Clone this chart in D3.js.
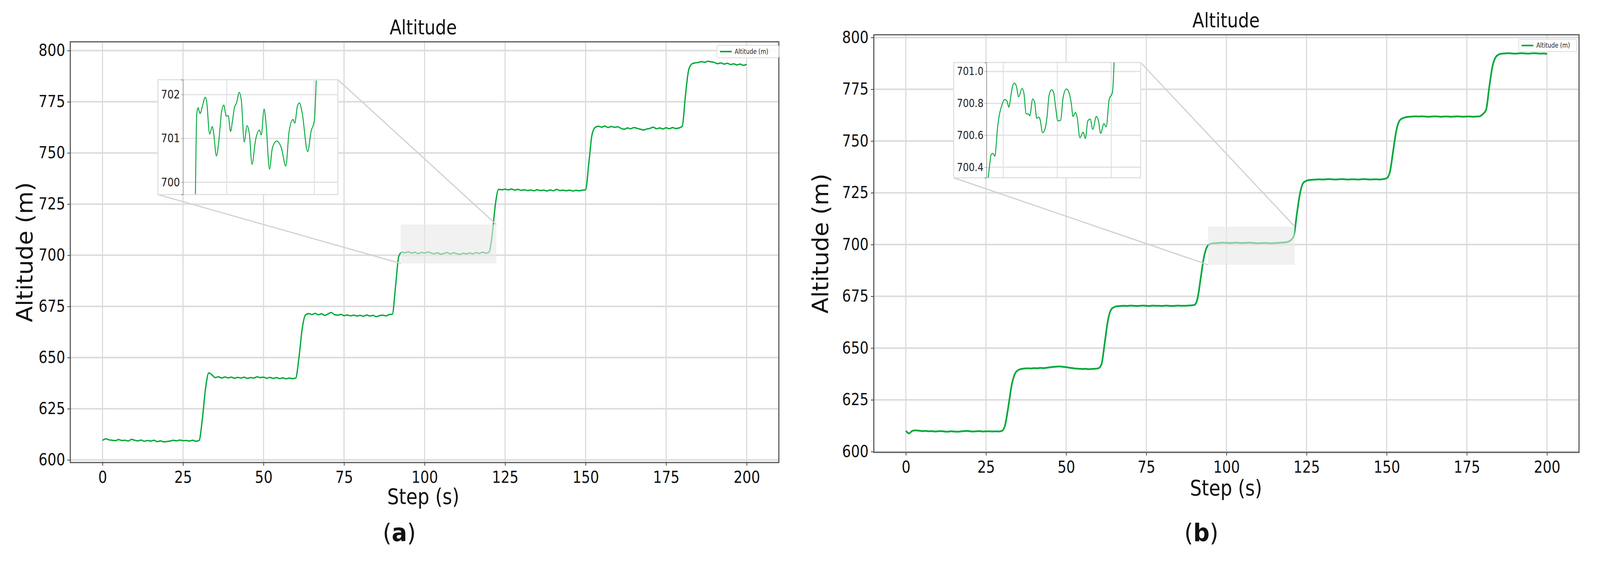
<!DOCTYPE html>
<html><head><meta charset="utf-8">
<script src="https://cdn.jsdelivr.net/npm/d3@7"></script>
<style>html,body{margin:0;padding:0;overflow:hidden;background:#fff}svg{display:block;width:100vw;height:100vh}svg text{font-family:"DejaVu Sans",sans-serif}</style>
</head><body><svg id="c" viewBox="0 0 4347 1436" preserveAspectRatio="none"></svg>
<script>
const yTicks=[600,625,650,675,700,725,750,775,800];
const xTicks=[0,25,50,75,100,125,150,175,200];
const steps=d3.range(0,201);
const altA=[609.5,610.3,609.8,609.6,609.4,609.9,609.5,609.6,609.2,610.0,609.6,609.3,609.7,609.1,609.5,609.2,609.6,608.9,609.3,608.8,609.0,609.2,609.6,609.3,609.7,609.4,609.5,609.2,609.6,609.1,
609.5,620,635,642.5,641.5,640.2,640.6,640.0,640.5,640.1,640.4,639.9,640.3,640.0,640.4,639.8,640.2,640.0,640.6,640.2,640.4,639.9,640.3,639.8,640.2,639.7,640.1,639.6,640.0,639.7,
640.0,650,664,670.8,671.5,671.0,671.6,670.9,671.4,670.6,671.3,672.0,671.0,670.7,671.1,670.5,670.8,670.4,670.7,670.3,670.6,670.2,670.8,670.3,670.6,670.0,670.5,670.7,670.4,671.0,
671.2,685,699.5,701.5,701.2,701.7,701.0,701.5,700.8,701.4,701.0,701.6,701.1,700.7,701.2,700.5,700.9,701.3,700.6,701.2,700.8,700.4,701.0,700.6,701.1,700.7,701.3,700.9,701.5,701.0,
701.5,710,725,732.2,732.0,732.3,731.9,732.4,731.8,732.2,731.7,732.0,731.6,731.9,731.5,732.0,731.6,731.8,731.4,731.9,731.5,732.2,731.6,731.8,731.5,731.8,731.4,731.7,731.5,731.8,
732.0,745,759,762.5,763.0,762.6,763.1,762.4,762.9,762.5,762.8,762.0,761.6,762.2,761.8,762.4,762.0,761.6,761.2,761.7,762.0,762.6,761.8,762.2,761.7,762.3,761.8,762.4,761.9,762.2,
763,778,790.5,793.5,794.0,794.2,794.6,794.3,794.8,794.5,794.2,793.6,794.0,793.4,793.8,793.2,793.5,793.0,793.4,792.8,793.3];
const altB=[610,608.8,610.0,610.2,610.1,609.9,610.0,609.8,609.9,609.7,609.8,609.9,609.7,609.6,609.8,609.7,609.6,609.7,609.9,610.0,609.8,609.7,609.8,609.9,609.7,609.8,609.8,609.7,609.8,609.7,
610,613,622,632,637.5,639.3,639.9,640.1,640.2,640.1,640.3,640.2,640.4,640.3,640.5,640.7,640.9,641.0,641.1,640.9,640.8,640.5,640.3,640.1,640.0,639.9,640.0,639.8,639.9,640.0,
640.2,642,652,663,668.5,669.8,670.2,670.3,670.4,670.3,670.5,670.4,670.3,670.4,670.5,670.4,670.3,670.5,670.4,670.4,670.3,670.5,670.4,670.3,670.4,670.5,670.4,670.4,670.5,670.6,
670.8,674,684,694,699,700.3,700.6,700.7,700.8,700.9,700.8,700.7,700.8,700.9,700.8,700.7,700.8,700.9,700.8,700.7,700.6,700.7,700.8,700.7,700.6,700.7,700.8,700.9,701.0,701.2,
702,704,715,725,729.8,730.8,731.2,731.3,731.4,731.5,731.4,731.5,731.6,731.5,731.4,731.5,731.6,731.5,731.4,731.5,731.5,731.4,731.5,731.6,731.5,731.4,731.5,731.5,731.4,731.6,
732,735,745,755,759.8,761,761.5,761.7,761.8,761.9,761.8,761.9,761.8,761.7,761.8,761.9,761.8,761.7,761.8,761.8,761.7,761.8,761.9,761.8,761.7,761.8,761.8,761.7,761.8,761.9,
763,765,776,786,790.5,791.8,792.2,792.3,792.4,792.3,792.2,792.3,792.4,792.3,792.2,792.3,792.4,792.3,792.2,792.3,792.0];
const insetAx=[92.86,93.15,93.45,93.92,94.51,95.10,95.40,96.10,96.69,97.04,97.64,98.23,98.82,99.35,99.88,100.35,100.88,101.29,101.76,102.24,102.88,103.35,104.0,104.65,105.18,105.77,106.60,107.48,107.89,108.54,108.95,109.78,110.43,111.43,112.49,113.50,114.26,115.14,115.56,116.14,116.61,117.21,118.50,119.27,120.03,120.45];
const insetAy=[699.73,701.54,701.70,701.57,701.76,701.94,701.86,701.10,701.27,701.10,700.60,700.97,701.60,701.76,701.51,701.52,701.16,701.38,701.70,701.81,702.05,701.86,700.92,701.29,701.10,700.41,700.97,701.19,701.08,701.67,701.38,700.30,700.78,700.94,700.78,700.37,701.16,701.43,701.35,701.73,701.81,701.60,700.70,701.16,701.41,702.32];
const insetBx=[94.30,94.65,94.90,95.25,95.71,95.96,96.24,96.59,97.12,97.83,98.29,98.71,99.14,99.49,99.88,100.30,100.83,101.54,101.96,102.42,102.95,103.20,103.83,104.25,104.71,105.14,105.42,105.95,106.55,106.90,107.36,107.89,108.31,108.77,109.23,109.83,110.36,111.07,111.60,112.13,112.48,113.01,113.36,113.96,114.67,115.13,115.66,116.19,116.72,117.49,117.95,118.41,119.12,119.61,120.25,120.95,121.30];
const insetBy=[700.335,700.429,700.478,700.487,700.469,700.527,700.633,700.714,700.780,700.824,700.816,700.776,700.845,700.906,700.927,700.910,700.841,700.894,700.861,700.735,700.732,700.722,700.827,700.804,700.706,700.714,700.698,700.616,700.649,700.714,700.853,700.886,700.869,700.771,700.690,700.694,700.837,700.890,700.869,700.796,700.718,700.743,700.714,700.584,700.620,700.580,700.690,700.702,700.637,700.718,700.690,700.612,700.673,700.653,700.824,700.869,701.057];
const insetATicks=[700,701,702], insetBTicks=[700.4,700.6,700.8,701.0];
const insetAGrid=[100,120], insetBGrid=[97.5,109.1,120.7];

const svg=d3.select("#c");
const GREEN="#00a93a";

function panel(o){
  const g=svg.append("g");
  const x=d3.scaleLinear().domain([-10,210]).range([o.L,o.R]);
  const y=d3.scaleLinear().domain(o.yd).range([o.B,o.T]);
  g.append("g").selectAll("line").data(xTicks).join("line").attr("x1",d=>x(d)).attr("x2",d=>x(d)).attr("y1",o.T).attr("y2",o.B).attr("stroke","#d4d4d4").attr("stroke-width",2.5);
  g.append("g").selectAll("line").data(yTicks).join("line").attr("y1",d=>y(d)).attr("y2",d=>y(d)).attr("x1",o.L).attr("x2",o.R).attr("stroke","#dcdcdc").attr("stroke-width",4);
  const ax=g.append("g").attr("transform",`translate(0,${o.B})`).call(d3.axisBottom(x).tickValues(xTicks).tickSize(8).tickPadding(14));
  const ay=g.append("g").attr("transform",`translate(${o.L},0)`).call(d3.axisLeft(y).tickValues(yTicks).tickSize(8).tickPadding(6));
  [ax,ay].forEach(a=>{a.select(".domain").remove();a.selectAll("line").attr("stroke","#444").attr("stroke-width",2);
    a.selectAll("text").attr("font-size",o.tf).attr("fill","#111").attr("font-stretch","condensed").attr("font-family",o.tfam);});
  g.append("rect").attr("x",o.L).attr("y",o.T).attr("width",o.R-o.L).attr("height",o.B-o.T).attr("fill","none").attr("stroke","#555").attr("stroke-width",3);
  const ln=d3.line().x((d,i)=>x(steps[i])).y(d=>y(d)).curve(d3.curveMonotoneX);
  g.append("path").attr("d",ln(o.data)).attr("fill","none").attr("stroke",GREEN).attr("stroke-width",o.lw);
  const rx1=x(o.zx[0]),rx2=x(o.zx[1]),ry1=y(o.zy[1]),ry2=y(o.zy[0]);
  g.append("rect").attr("x",rx1).attr("y",ry1).attr("width",rx2-rx1).attr("height",ry2-ry1).attr("fill","#e8e8e8").attr("opacity",0.6);
  const I=o.inset;
  g.append("line").attr("x1",I.bx2).attr("y1",I.by1).attr("x2",rx2).attr("y2",ry1).attr("stroke","#d0d0d0").attr("stroke-width",3);
  g.append("line").attr("x1",I.bx1).attr("y1",I.by2).attr("x2",rx1).attr("y2",ry2).attr("stroke","#d0d0d0").attr("stroke-width",3);
  g.append("rect").attr("x",I.bx1).attr("y",I.by1).attr("width",I.bx2-I.bx1).attr("height",I.by2-I.by1).attr("fill","#fff").attr("stroke","#e0e0e0").attr("stroke-width",3);
  const ix=d3.scaleLinear().domain(I.xd).range([I.sx,I.bx2]);
  const iy=d3.scaleLinear().domain(I.yd).range([I.by2,I.by1]);
  g.append("g").selectAll("line").data(I.grid).join("line").attr("x1",d=>ix(d)).attr("x2",d=>ix(d)).attr("y1",I.by1).attr("y2",I.by2).attr("stroke","#dadada").attr("stroke-width",2);
  g.append("g").selectAll("line").data(I.ticks).join("line").attr("y1",d=>iy(d)).attr("y2",d=>iy(d)).attr("x1",I.sx).attr("x2",I.bx2).attr("stroke","#e0e0e0").attr("stroke-width",3);
  const iax=g.append("g").attr("transform",`translate(${I.sx},0)`).call(d3.axisLeft(iy).tickValues(I.ticks).tickFormat(I.fmt).tickSize(5).tickPadding(3));
  iax.select(".domain").attr("stroke","#777").attr("stroke-width",1.5);
  iax.selectAll("line").attr("stroke","#777");
  iax.selectAll("text").attr("font-size",I.tf).attr("fill","#222").attr("font-stretch","condensed").attr("font-family",o.tfam);
  const iln=d3.line().x((d,i)=>ix(I.xs[i])).y(d=>iy(d)).curve(d3.curveMonotoneX);
  const cp="clp"+o.id;
  svg.append("clipPath").attr("id",cp).append("rect").attr("x",I.sx).attr("y",I.by1).attr("width",I.bx2-I.sx).attr("height",I.by2-I.by1);
  g.append("path").attr("d",iln(I.ys)).attr("clip-path",`url(#${cp})`).attr("fill","none").attr("stroke",GREEN).attr("stroke-width",2.5);
  const Lg=o.leg;
  g.append("rect").attr("x",Lg[0]).attr("y",Lg[1]).attr("width",Lg[2]).attr("height",Lg[3]).attr("rx",4).attr("fill","#fff").attr("fill-opacity",0.85).attr("stroke","#ddd").attr("stroke-width",2);
  g.append("line").attr("x1",Lg[0]+8).attr("x2",Lg[0]+40).attr("y1",Lg[1]+Lg[3]/2).attr("y2",Lg[1]+Lg[3]/2).attr("stroke",GREEN).attr("stroke-width",4);
  g.append("text").attr("x",Lg[0]+48).attr("y",Lg[1]+Lg[3]/2+6).attr("font-size",17).attr("font-stretch","condensed").attr("fill","#222").text("Altitude (m)");
  g.append("text").attr("x",o.cx).attr("y",o.ty).attr("text-anchor","middle").attr("font-size",52).attr("font-stretch","condensed").attr("fill","#111").text("Altitude");
  g.append("text").attr("x",o.cx).attr("y",o.xly).attr("text-anchor","middle").attr("font-size",56).attr("font-stretch","condensed").attr("fill","#111").text("Step (s)");
  g.append("text").attr("transform",`translate(${o.ylx},${(o.T+o.B)/2}) rotate(-90)`).attr("text-anchor","middle").attr("font-size",60).attr("fill","#111").text("Altitude (m)");
  const lab=g.append("text").attr("x",o.labx).attr("y",1385).attr("text-anchor","middle").attr("font-size",62).attr("font-family","Liberation Serif, serif").attr("fill","#111");
  lab.append("tspan").text("(");lab.append("tspan").attr("font-weight","bold").text(o.lab);lab.append("tspan").text(")");
}

panel({id:"a",L:191,R:2116,T:107,B:1184,yd:[598.7,804.3],data:altA,lw:3.5,tf:42,tfam:"DejaVu Sans",
  zx:[92.6,122.3],zy:[696,715],cx:1150,ty:88,xly:1290,ylx:88,labx:1085,lab:"a",leg:[1948,116,168,32],
  inset:{bx1:429,bx2:918,by1:204,by2:498,sx:497,xd:[90,125.4],yd:[699.72,702.34],ticks:insetATicks,grid:insetAGrid,fmt:d3.format("d"),tf:30,xs:insetAx,ys:insetAy}});
panel({id:"b",L:2374,R:4290,T:89,B:1158,yd:[599.6,801.3],data:altB,lw:4.5,tf:42,tfam:"DejaVu Sans",
  zx:[94.3,121.3],zy:[690.2,708.7],cx:3331,ty:70,xly:1268,ylx:2250,labx:3264,lab:"b",leg:[4126,101,158,31],
  inset:{bx1:2591,bx2:3099,by1:160,by2:455,sx:2680,xd:[93.9,127.0],yd:[700.334,701.056],ticks:insetBTicks,grid:insetBGrid,fmt:d3.format(".1f"),tf:28,xs:insetBx,ys:insetBy}});
</script></body></html>
